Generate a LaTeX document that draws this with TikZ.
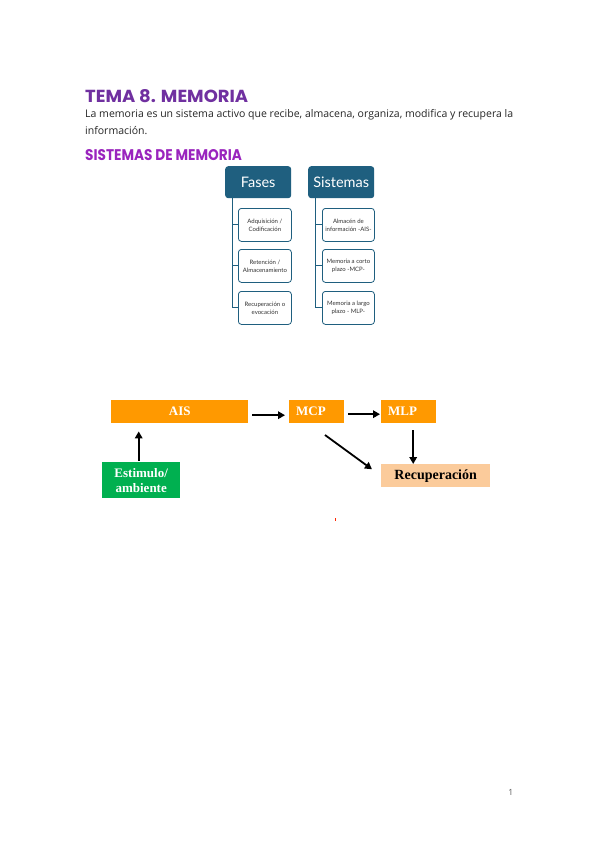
\documentclass[tikz,border=0pt]{standalone}
\usepackage{fontspec}
\setmainfont{Open Sans}
\newfontfamily\titlefont{Poppins}
\newfontfamily\timesf{Liberation Serif}
\newfontfamily\latof{Lato}
\usetikzlibrary{arrows.meta}
\definecolor{tpurple}{HTML}{7030A0}
\definecolor{spurple}{HTML}{9A24BE}
\definecolor{hdrblue}{HTML}{1F5F7F}
\definecolor{aisor}{HTML}{FF9900}
\definecolor{recor}{HTML}{FBCB9B}
\definecolor{estgr}{HTML}{00B050}
\definecolor{pgray}{HTML}{595959}
\newlength\lineonewd
\newcommand\lineonetext{La memoria es un sistema activo que recibe, almacena, organiza, modifica y recupera la}
\begin{document}
\settowidth\lineonewd{\fontsize{10}{12}\selectfont\lineonetext}
\pgfmathsetmacro\bodyscale{428/\lineonewd}
\begin{tikzpicture}[x=1pt,y=-1pt,
  hdr/.style={fill=hdrblue, rounded corners=3pt, text=white, inner sep=0pt,
    minimum width=66pt, minimum height=32pt, anchor=north west,
    font=\latof\fontsize{14.5}{14.5}\selectfont},
  sub/.style={draw=hdrblue, line width=0.8pt, fill=white, rounded corners=3pt,
    inner sep=1pt, minimum width=53pt, minimum height=33pt, anchor=north west,
    align=center, text=black!80, font=\latof\fontsize{6}{8}\selectfont},
  conn/.style={draw=hdrblue, line width=0.9pt},
  bx/.style={inner sep=0pt, anchor=north west, minimum height=23pt,
    font=\timesf\bfseries\fontsize{13}{15}\selectfont},
  arr/.style={line width=1.8pt, -{Triangle[length=7pt,width=7.5pt]}},
  body/.style={anchor=base west, inner sep=0pt, font=\fontsize{10}{12}\selectfont, text=black!85}
]
\useasboundingbox[fill=white] (0,0) rectangle (599,848);

% headings and text
\node[anchor=base west, inner sep=0pt, text=tpurple] (title) at (85,102.7)
  {\resizebox{163pt}{13pt}{\titlefont\bfseries TEMA 8. MEMORIA}};
\node[body] (line1) at (85,117.3) {\scalebox{\bodyscale}{\lineonetext}};
\node[body] (line2) at (85,134) {\scalebox{\bodyscale}{información.}};
\node[anchor=base west, inner sep=0pt, text=spurple] (subtitle) at (85,160)
  {\resizebox{156.7pt}{11pt}{\titlefont\bfseries SISTEMAS DE MEMORIA}};

% small diagram
\node[hdr] (F) at (225,166) {Fases};
\node[hdr] (S) at (308,166) {Sistemas};
\node[sub] (F1) at (238,208) {Adquisición /\\Codificación};
\node[sub] (F2) at (238,249) {Retención /\\Almacenamiento};
\node[sub] (F3) at (238,291) {Recuperación o\\evocación};
\node[sub, minimum width=52pt] (S1) at (322,208) {Almacén de\\información -AIS-};
\node[sub, minimum width=52pt] (S2) at (322,249) {Memoria a corto\\plazo -MCP-};
\node[sub, minimum width=52pt] (S3) at (322,291) {Memoria a largo\\plazo - MLP-};
\draw[conn] ([xshift=7.3pt]F.south west) |- (F3.west);
\draw[conn] ([xshift=7.3pt]F.south west) |- (F1.west);
\draw[conn] ([xshift=7.3pt]F.south west) |- (F2.west);
\draw[conn] ([xshift=7pt]S.south west) |- (S3.west);
\draw[conn] ([xshift=7pt]S.south west) |- (S1.west);
\draw[conn] ([xshift=7pt]S.south west) |- (S2.west);

% flow diagram
\node[bx, fill=aisor, text=white, minimum width=137pt] (AIS) at (111,400) {AIS};
\node[bx, fill=aisor, text=white, text width=41pt, inner xsep=7pt, align=left] (MCP) at (289,400) {MCP};
\node[bx, fill=aisor, text=white, text width=41pt, inner xsep=7pt, align=left] (MLP) at (381,400) {MLP};
\node[bx, fill=recor, text=black, minimum width=109pt, font=\timesf\bfseries\fontsize{14}{15}\selectfont] (Rec) at (381,464) {Recuperación};
\node[bx, fill=estgr, text=white, minimum width=78pt, minimum height=36pt, align=center] (Est) at (102,462) {Estimulo/\\ambiente};

\draw[arr, shorten <=4pt, shorten >=4pt] ([yshift=-3.5pt]AIS.east) -- ([yshift=-3.5pt]MCP.west);
\draw[arr, shorten <=4pt, shorten >=1pt] ([yshift=-2.5pt]MCP.east) -- ([yshift=-2.5pt]MLP.west);
\draw[arr, shorten >=8pt] ([xshift=-2.5pt,yshift=1.5pt]Est.north) -- ([xshift=-2.5pt]Est.north |- AIS.south);
\draw[arr, shorten <=7pt] ([xshift=4.5pt]MLP.south) -- ([xshift=4.5pt]MLP.south |- Rec.north);
\draw[arr] ([xshift=8.3pt,yshift=-11.6pt]MCP.south) -- ([xshift=-9pt,yshift=6.4pt]Rec.west);

% stray mark and page number
\fill[red!70!orange] (334.6,517.5) rectangle (335.6,520.5);
\node[anchor=center, inner sep=0pt, text=pgray, font=\fontsize{8.5}{9}\selectfont] (pnum) at (510.7,792.7) {1};
\end{tikzpicture}
\end{document}
